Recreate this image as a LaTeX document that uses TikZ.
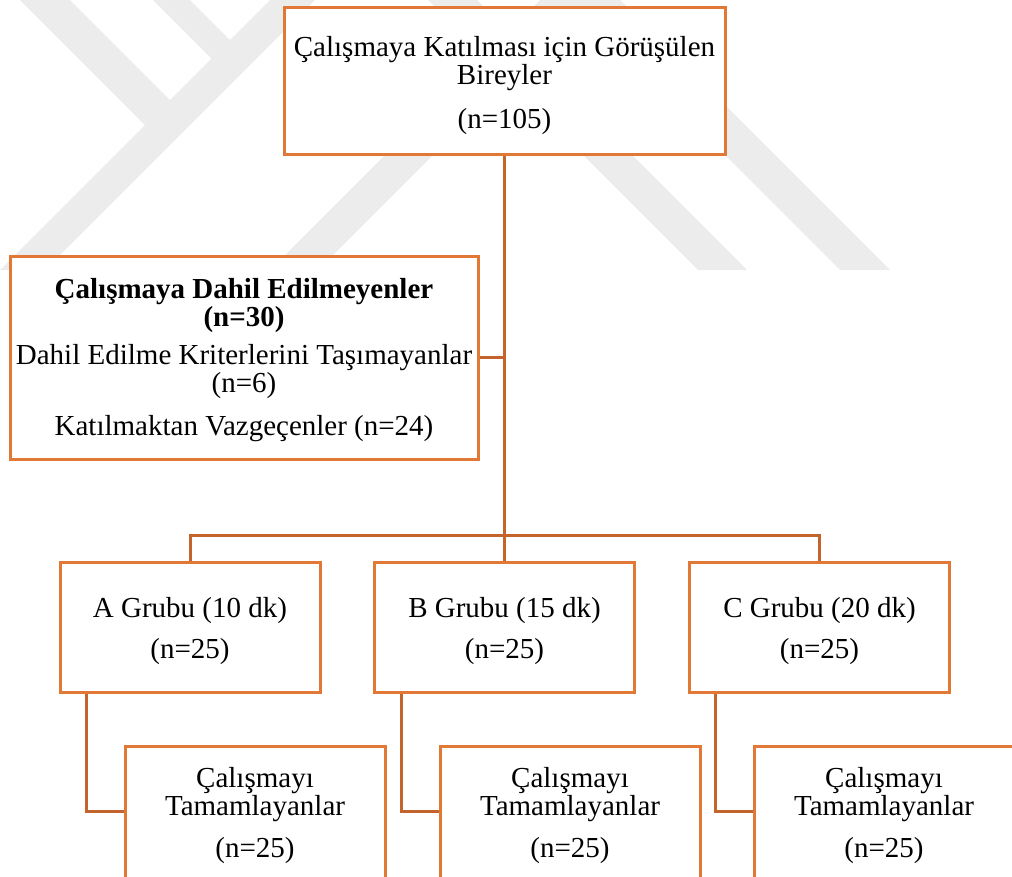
\documentclass[tikz,border=0pt]{standalone}
\usepackage{fontspec}
\setmainfont{Liberation Serif}
\definecolor{boxor}{RGB}{226,120,54}
\definecolor{lineor}{RGB}{196,100,45}
\definecolor{wm}{RGB}{236,236,236}
\begin{document}
\begin{tikzpicture}[x=1pt,y=-1pt,
  box/.style={draw=boxor, line width=3pt, fill=white, align=center, inner sep=0pt,
    font=\fontsize{29}{28}\selectfont},
  grp/.style={box, minimum width=260pt, minimum height=130pt},
  done/.style={box, minimum width=260pt, minimum height=134pt},
  conn/.style={draw=lineor, line width=3pt}]
\useasboundingbox (0,0) rectangle (1012,876);
\clip (0,0) rectangle (1012,876);
% watermark
\begin{scope}
  \clip (0,0) rectangle (1012,270);
  \fill[wm] (270,0) -- (315,0) -- (45,270) -- (0,270) -- cycle;
  \fill[wm] (20,0) -- (70,0) -- (180,110) -- (155,135) -- cycle;
  \fill[wm] (153,0) -- (190,0) -- (240,50) -- (221.5,68.5) -- cycle;
  \fill[wm] (540,0) -- (588,0) -- (318,270) -- (270,270) -- cycle;
  \fill[wm] (428,0) -- (477,0) -- (747,270) -- (698,270) -- cycle;
  \fill[wm] (570,0) -- (620,0) -- (890,270) -- (840,270) -- cycle;
\end{scope}
% boxes
\node[box, minimum width=441pt, minimum height=147pt] (top) at (504.5,80.5)
  {\rule{0pt}{30pt}Çalışmaya Katılması için Görüşülen\\Bireyler\\[16pt](n=105)};
\node[box, minimum width=468pt, minimum height=203pt] (excl) at (244,357.5)
  {\rule{0pt}{25pt}\textbf{Çalışmaya Dahil Edilmeyenler}\\\textbf{(n=30)}\\[10pt]Dahil Edilme Kriterlerini Taşımayanlar\\(n=6)\\[15pt]Katılmaktan Vazgeçenler (n=24)};
\node[grp] (A) at (190,627) {\rule{0pt}{28pt}A Grubu (10 dk)\\[13pt](n=25)};
\node[grp] (B) at (504.5,627) {\rule{0pt}{28pt}B Grubu (15 dk)\\[13pt](n=25)};
\node[grp] (C) at (819.5,627) {\rule{0pt}{28pt}C Grubu (20 dk)\\[13pt](n=25)};
\node[done] (dA) at (255,813) {\rule{0pt}{26pt}Çalışmayı\\Tamamlayanlar\\[14pt](n=25)};
\node[done] (dB) at (570,813) {\rule{0pt}{26pt}Çalışmayı\\Tamamlayanlar\\[14pt](n=25)};
\node[done] (dC) at (884,813) {\rule{0pt}{26pt}Çalışmayı\\Tamamlayanlar\\[14pt](n=25)};
% connectors
\draw[conn] (top.south) -- (B.north);
\draw[conn] (excl.east) -- (excl.east -| top.south);
\draw[conn] (A.north) -- (A.north |- 0,535) -| (C.north);
\draw[conn] ([xshift=-103.5pt]A.south) |- ([yshift=2pt]dA.west);
\draw[conn] ([xshift=-103.5pt]B.south) |- ([yshift=2pt]dB.west);
\draw[conn] ([xshift=-104.5pt]C.south) |- ([yshift=2pt]dC.west);
\end{tikzpicture}
\end{document}
